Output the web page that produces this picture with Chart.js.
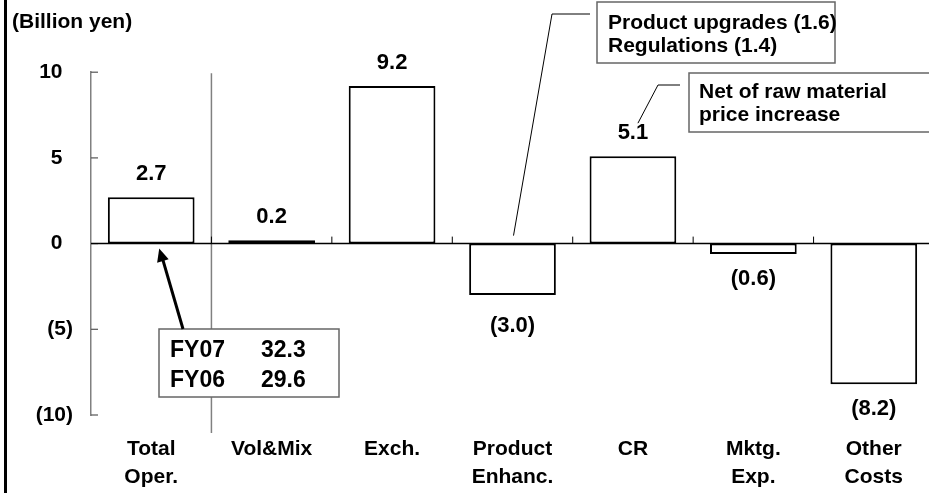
<!DOCTYPE html>
<html>
<head>
<meta charset="utf-8">
<script src="https://cdn.jsdelivr.net/npm/chart.js@4.4.0/dist/chart.umd.min.js"></script>
<style>
  html,body{ margin:0; padding:0; background:#fff; overflow:hidden; }
  #wrap{ position:relative; width:934px; height:493px; }
  #wrap:before{ content:''; position:absolute; left:4px; top:0; bottom:0; width:2.5px; background:#000; z-index:2; }
</style>
</head>
<body>
<div id="wrap"><canvas id="bridge" width="934" height="493"></canvas></div>
<script>
// 営業利益 増減要因 (十億円)
const categories = [['Total','Oper.'], ['Vol&Mix'], ['Exch.'], ['Product','Enhanc.'], ['CR'], ['Mktg.','Exp.'], ['Other','Costs']];
const changes    = [2.7, 0.2, 9.2, -3.0, 5.1, -0.6, -8.2];
const yTicks     = [-10, -5, 0, 5, 10];
const fyTotals   = [['FY07','32.3'], ['FY06','29.6']];
const enhancNote = ['Product upgrades (1.6)', 'Regulations (1.4)'];
const crNote     = ['Net of raw material', 'price increase'];

const FONT = '"Liberation Sans", Arial, sans-serif';

function fmtVal(v){ return v < 0 ? `(${Math.abs(v).toFixed(1)})` : v.toFixed(1); }
function fmtTick(v){ return v < 0 ? `(${Math.abs(v)})` : `${v}\u2002`; }

function box(ctx, x, y, w, h){
  ctx.save();
  ctx.fillStyle = '#fff';
  ctx.strokeStyle = '#666';
  ctx.lineWidth = 1.5;
  ctx.fillRect(x, y, w, h);
  ctx.strokeRect(x, y, w, h);
  ctx.restore();
}
function line(ctx, pts, w, color){
  ctx.save();
  ctx.strokeStyle = color || '#000';
  ctx.lineWidth = w || 1;
  ctx.beginPath();
  pts.forEach((p,i)=> i ? ctx.lineTo(p[0],p[1]) : ctx.moveTo(p[0],p[1]));
  ctx.stroke();
  ctx.restore();
}
function text(ctx, s, x, y, size, align){
  ctx.save();
  ctx.fillStyle = '#000';
  ctx.font = `bold ${size}px ${FONT}`;
  ctx.textAlign = align || 'left';
  ctx.textBaseline = 'middle';
  ctx.fillText(s, x, y);
  ctx.restore();
}

// 軸・ゼロ線・区切り線
const axisDeco = {
  id:'axisDeco',
  beforeDatasetsDraw(chart){
    const {ctx, chartArea:a, scales:{x, y}} = chart;
    const y0 = y.getPixelForValue(0);
    // 区切り線 (Total | 内訳)
    const sep = (x.getPixelForValue(0) + x.getPixelForValue(1)) / 2;
    line(ctx, [[sep, a.top + 1], [sep, a.bottom + 18]], 1.5, '#808080');
    // y 目盛 (内向き)
    yTicks.forEach(t=>{
      const py = y.getPixelForValue(t);
      line(ctx, [[a.left, py], [a.left + 7, py]], 1.2, '#555');
    });
    // ゼロ線 + 区切り目盛
    line(ctx, [[a.left, y0], [a.right, y0]], 1.5, '#000');
    for (let i = 1; i < categories.length; i++){
      const px = (x.getPixelForValue(i-1) + x.getPixelForValue(i)) / 2;
      line(ctx, [[px, y0], [px, y0 - 7]], 1, '#000');
    }
  },
  afterDatasetsDraw(chart){
    const {ctx, scales:{x, y}} = chart;
    const y0 = y.getPixelForValue(0);
    const bars = chart.getDatasetMeta(0).data;
    bars.forEach((b, i)=>{
      const v = changes[i];
      const off = v >= 0 ? -23 : (v < -1 && v > -5 ? 31 : 25);
      text(ctx, fmtVal(v), b.x, b.y + off, 22, 'center');
    });

    // Total の内訳 (FY07 / FY06)
    box(ctx, 159, 329, 180, 68);
    fyTotals.forEach((r, i)=>{
      text(ctx, r[0], 170, 351 + i*30, 23);
      text(ctx, r[1], 261, 351 + i*30, 23);
    });
    const tip = [bars[0].x + 8, y0 + 5], tail = [183, 329];
    line(ctx, [tail, [tip[0] + 3, tip[1] + 9]], 3, '#000');
    const ang = Math.atan2(tip[1] - tail[1], tip[0] - tail[0]);
    ctx.save();
    ctx.fillStyle = '#000';
    ctx.beginPath();
    ctx.moveTo(tip[0], tip[1]);
    ctx.lineTo(tip[0] - 13*Math.cos(ang) + 6*Math.sin(ang), tip[1] - 13*Math.sin(ang) - 6*Math.cos(ang));
    ctx.lineTo(tip[0] - 13*Math.cos(ang) - 6*Math.sin(ang), tip[1] - 13*Math.sin(ang) + 6*Math.cos(ang));
    ctx.closePath();
    ctx.fill();
    ctx.restore();

    // Product Enhanc. のコメント
    line(ctx, [[bars[3].x + 1, y0 - 8], [552, 14], [590, 14]], 1, '#000');
    box(ctx, 597, 2, 238, 61);
    enhancNote.forEach((s, i)=> text(ctx, s, 608, 23 + i*23, 21));

    // CR のコメント
    line(ctx, [[bars[4].x + 5, bars[4].y - 33], [658, 85], [680, 85]], 1, '#000');
    box(ctx, 689, 73, 260, 59);
    crNote.forEach((s, i)=> text(ctx, s, 699, 92 + i*23, 21));
  }
};

new Chart(document.getElementById('bridge').getContext('2d'), {
  type:'bar',
  data:{
    labels: categories,
    datasets:[{
      data: changes,
      backgroundColor:'#fff',
      borderColor:'#000',
      borderWidth:2,
      borderSkipped:false,
      barPercentage:0.72,
      categoryPercentage:1
    }]
  },
  options:{
    responsive:false,
    animation:false,
    devicePixelRatio:1,
    layout:{ padding:{ left:12, right:0, top:0, bottom:0 } },
    plugins:{
      legend:{ display:false },
      tooltip:{ enabled:false },
      title:{
        display:true, text:'(Billion yen)', align:'start', color:'#000',
        font:{ family:FONT, size:21, weight:'bold', lineHeight:1.2 },
        padding:{ top:10, bottom:37 }
      }
    },
    scales:{
      x:{
        grid:{ display:false, drawTicks:false },
        border:{ display:false },
        ticks:{ color:'#000', padding:20, maxRotation:0, autoSkip:false,
                font:{ family:FONT, size:21, weight:'bold', lineHeight:1.35 } },
        afterFit(s){ s.height = 78; }
      },
      y:{
        min:-10, max:10,
        grid:{ display:false, drawTicks:false },
        border:{ display:true, color:'#808080', width:1.5 },
        afterBuildTicks(s){ s.ticks = yTicks.map(v=>({ value:v })); },
        ticks:{ color:'#000', padding:18, callback:(v)=>fmtTick(v),
                font:{ family:FONT, size:21, weight:'bold' } },
        afterFit(s){ s.width = 79; }
      }
    }
  },
  plugins:[axisDeco]
});
</script>
</body>
</html>
